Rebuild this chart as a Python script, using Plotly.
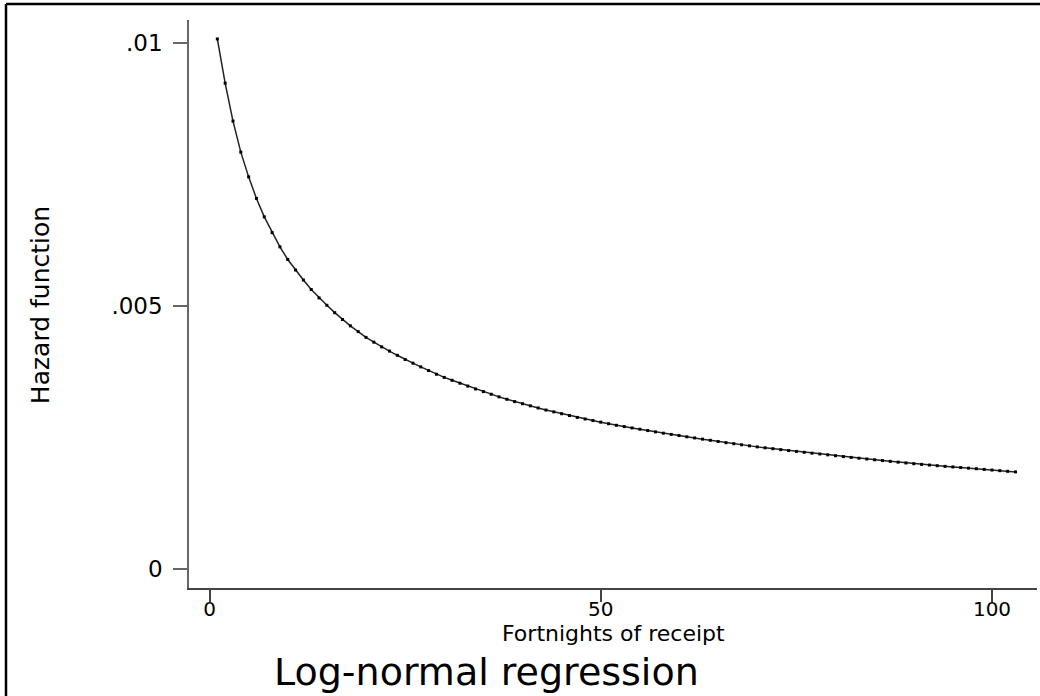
import plotly.graph_objects as go

# Fortnights of receipt (x) and estimated hazard (y)
fortnights = list(range(1, 104))
hazard_e3 = [
    10.07, 9.23, 8.51, 7.92, 7.45, 7.04, 6.69, 6.39, 6.12, 5.88,
    5.68, 5.49, 5.31, 5.15, 5.01, 4.87, 4.74, 4.62, 4.51, 4.40,
    4.31, 4.22, 4.14, 4.06, 3.98, 3.91, 3.84, 3.77, 3.70, 3.64,
    3.585, 3.53, 3.475, 3.42, 3.37, 3.32, 3.27, 3.225, 3.18, 3.14,
    3.10, 3.06, 3.02, 2.985, 2.95, 2.915, 2.88, 2.85, 2.82, 2.79,
    2.76, 2.73, 2.705, 2.68, 2.655, 2.63, 2.605, 2.58, 2.557, 2.535,
    2.512, 2.49, 2.467, 2.445, 2.422, 2.40, 2.38, 2.36, 2.34, 2.32,
    2.302, 2.285, 2.267, 2.25, 2.234, 2.217, 2.20, 2.185, 2.169, 2.152,
    2.136, 2.12, 2.105, 2.09, 2.075, 2.06, 2.045, 2.03, 2.015, 2.00,
    1.987, 1.975, 1.962, 1.95, 1.939, 1.927, 1.916, 1.905, 1.892, 1.88,
    1.868, 1.856, 1.845,
]
hazard = [v / 1000 for v in hazard_e3]

x_ticks = [0, 50, 100]
x_tick_labels = ["0", "50", "100"]
y_ticks = [0, 0.005, 0.01]
y_tick_labels = ["0", ".005", ".01"]

FONT = "DejaVu Sans"

fig = go.Figure()
fig.add_trace(go.Scatter(
    x=fortnights, y=hazard, mode="lines+markers",
    line=dict(color="#222222", width=1.5),
    marker=dict(symbol="square", size=3, color="black"),
    showlegend=False, hoverinfo="skip",
))

fig.update_layout(
    width=1040, height=696,
    margin=dict(l=189, r=3, t=20, b=108),
    paper_bgcolor="white", plot_bgcolor="white",
    font=dict(family=FONT, color="black"),
    xaxis=dict(
        range=[-2.62, 105.75], tickvals=x_ticks, ticktext=x_tick_labels,
        showgrid=False, zeroline=False, showline=True, linecolor="#444444", linewidth=1.5,
        ticks="outside", ticklen=12, tickwidth=1.5, tickcolor="#444444",
        tickfont=dict(family=FONT, size=20, color="black"),
        ticklabelstandoff=-10,
    ),
    yaxis=dict(
        range=[-0.000361, 0.01043], tickvals=y_ticks, ticktext=y_tick_labels,
        showgrid=False, zeroline=False, showline=True, linecolor="#666666", linewidth=1.5,
        ticks="outside", ticklen=14, tickwidth=1.5, tickcolor="#666666",
        tickfont=dict(family=FONT, size=23, color="black"),
        ticklabelstandoff=6,
    ),
    annotations=[
        dict(text="Fortnights of receipt", xref="paper", yref="paper",
             x=0.5, y=-0.0801, xanchor="center", yanchor="middle", showarrow=False,
             font=dict(family=FONT, size=22, color="black")),
        dict(text="Log-normal regression", xref="paper", yref="paper",
             x=0.3514, y=-0.1479, xanchor="center", yanchor="middle", showarrow=False,
             font=dict(family=FONT, size=38, color="black")),
        dict(text="Hazard function", xref="paper", yref="paper", textangle=-90,
             x=-0.1757, y=0.498, xanchor="center", yanchor="middle", showarrow=False,
             font=dict(family=FONT, size=25, color="black")),
    ],
    shapes=[
        dict(type="line", xref="paper", yref="paper",
             x0=(6 - 189) / 848, x1=(1045 - 189) / 848,
             y0=(588 - 4) / 568, y1=(588 - 4) / 568,
             line=dict(color="black", width=2.5)),
        dict(type="line", xref="paper", yref="paper",
             x0=(6 - 189) / 848, x1=(6 - 189) / 848,
             y0=(588 - 4) / 568, y1=(588 - 700) / 568,
             line=dict(color="black", width=2.5)),
    ],
)

fig.write_html(
    "out.html",
    config={"displayModeBar": False},
    post_script="document.body.style.margin='0';document.body.style.padding='0';",
)
